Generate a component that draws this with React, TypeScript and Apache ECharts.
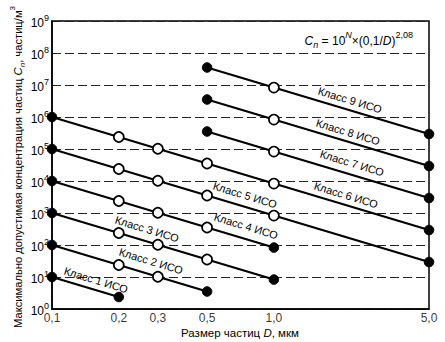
import React, { useEffect, useRef } from 'react';
import * as echarts from 'echarts';

// Particle sizes D, µm and their tick labels
const sizeTicks = [0.1, 0.2, 0.3, 0.5, 1.0, 5.0];
const sizeTickLabels = ['0,1', '0,2', '0,3', '0,5', '1,0', '5,0'];

// ISO classes: sizes and max concentrations (particles/m3)
const class1D = [0.1, 0.2];
const class1C = [10, 2.37];
const class2D = [0.1, 0.2, 0.3, 0.5];
const class2C = [100, 23.7, 10.2, 3.52];
const class3D = [0.1, 0.2, 0.3, 0.5, 1.0];
const class3C = [1000, 237, 102, 35.2, 8.32];
const class4D = [0.1, 0.2, 0.3, 0.5, 1.0];
const class4C = [10000, 2370, 1020, 352, 83.2];
const class5D = [0.1, 0.2, 0.3, 0.5, 1.0, 5.0];
const class5C = [100000, 23700, 10200, 3520, 832, 29.3];
const class6D = [0.1, 0.2, 0.3, 0.5, 1.0, 5.0];
const class6C = [1000000, 237000, 102000, 35200, 8320, 293];
const class7D = [0.5, 1.0, 5.0];
const class7C = [352000, 83200, 2930];
const class8D = [0.5, 1.0, 5.0];
const class8C = [3520000, 832000, 29300];
const class9D = [0.5, 1.0, 5.0];
const class9C = [35200000, 8320000, 293000];

const classNames = ['Класс 1 ИСО', 'Класс 2 ИСО', 'Класс 3 ИСО', 'Класс 4 ИСО', 'Класс 5 ИСО',
  'Класс 6 ИСО', 'Класс 7 ИСО', 'Класс 8 ИСО', 'Класс 9 ИСО'];

// label placement (layout only)
const classLabelPos: [number, number][] = [
  [96, 280], [151, 261], [147, 229], [246, 226], [245, 195],
  [346, 195], [352, 163], [348, 132], [350, 100],
];

const FONT = "'Liberation Sans', Arial, Helvetica, sans-serif";

export default function App() {
  const ref = useRef<HTMLDivElement>(null);
  useEffect(() => {
    const chart = echarts.init(ref.current!, null, { renderer: 'svg' });
    const classes = [
      [class1D, class1C], [class2D, class2C], [class3D, class3C], [class4D, class4C],
      [class5D, class5C], [class6D, class6C], [class7D, class7C], [class8D, class8C], [class9D, class9C],
    ];
    const filled = { color: '#000', borderColor: '#000', borderWidth: 1 };
    const open = { color: '#fff', borderColor: '#000', borderWidth: 1.7 };
    const lineSeries = classes.map(([ds, cs], k) => ({
      type: 'line',
      name: classNames[k],
      data: ds.map((d, i) => {
        const end = i === 0 || i === ds.length - 1;
        return { value: [d, cs[i]], itemStyle: end ? filled : open, symbolSize: end ? 9.5 : 10 };
      }),
      symbol: 'circle',
      showAllSymbol: true,
      color: '#000',
      lineStyle: { color: '#000', width: 2.2 },
      silent: true,
      clip: false,
      z: 3,
    }));

    const tickSeries = {
      type: 'scatter',
      data: sizeTicks.map((d) => [d, 1]),
      symbolSize: 0,
      itemStyle: { color: 'transparent' },
      label: {
        show: true,
        position: 'bottom',
        distance: 3,
        formatter: (p: any) => sizeTickLabels[p.dataIndex],
        fontSize: 12,
        color: '#000',
        fontFamily: FONT,
      },
      silent: true,
      clip: false,
      z: 4,
    };

    const mk = (fs: number) => {
      const base = { fontSize: fs, fontFamily: FONT, color: '#000' };
      const s = Math.round(fs * 0.75);
      return {
        a: { ...base, verticalAlign: 'bottom', padding: [0, 0, 3, 0] },
        i: { ...base, fontStyle: 'italic', verticalAlign: 'bottom', padding: [0, 0, 3, 0] },
        sub: { fontSize: s, fontFamily: FONT, color: '#000', fontStyle: 'italic', verticalAlign: 'bottom', padding: [0, 0, 0, 0] },
        sup: { fontSize: s, fontFamily: FONT, color: '#000', verticalAlign: 'bottom', padding: [0, 0, 10, 0] },
        supi: { fontSize: s, fontFamily: FONT, color: '#000', fontStyle: 'italic', verticalAlign: 'bottom', padding: [0, 0, 10, 0] },
      };
    };

    const graphics: any[] = [
      {
        type: 'text', x: 413, y: 40,
        style: {
          text: '{i|C}{sub|n}{a| = 10}{supi|N}{a|×(0,1/}{i|D}{a|)}{sup|2,08}',
          rich: mk(12), align: 'right', verticalAlign: 'middle',
        },
      },
      {
        type: 'text', x: 240, y: 333,
        style: {
          text: '{a|Размер частиц }{i|D}{a|, мкм}',
          rich: {
            a: { fontSize: 11.5, fontFamily: FONT, color: '#000' },
            i: { fontSize: 11.5, fontFamily: FONT, color: '#000', fontStyle: 'italic' },
          },
          align: 'center', verticalAlign: 'middle',
        },
      },
      {
        type: 'text', x: 17, y: 167, rotation: Math.PI / 2,
        style: {
          text: '{a|Максимально допустимая концентрация частиц }{i|C}{sub|n}{a|, частиц/м}{sup|3}',
          rich: mk(11.2), align: 'center', verticalAlign: 'middle',
        },
      },
      ...classNames.map((n, k) => ({
        type: 'text', x: classLabelPos[k][0], y: classLabelPos[k][1], rotation: -0.294,
        style: { text: n, fontSize: 11, fontFamily: FONT, fill: '#000', align: 'center', verticalAlign: 'middle' },
        z: 10,
      })),
    ];

    chart.setOption({
      animation: false,
      backgroundColor: '#fff',
      grid: { left: 52, right: 16, top: 21, bottom: 33, show: true, borderColor: '#000', borderWidth: 1.5, backgroundColor: 'transparent' },
      xAxis: {
        type: 'log', logBase: 10, min: 0.1, max: 5,
        axisLabel: { show: false },
        axisTick: { show: false },
        splitLine: { show: false },
        axisLine: { show: true, lineStyle: { color: '#000', width: 1.5 } },
      },
      yAxis: {
        type: 'log', logBase: 10, min: 1, max: 1e9,
        axisTick: { show: false },
        axisLine: { show: true, lineStyle: { color: '#000', width: 1.5 } },
        splitLine: { show: true, lineStyle: { color: '#222', width: 1, type: [9, 4] } },
        axisLabel: {
          margin: 3,
          formatter: (v: number) => `{b|10}{s|${Math.round(Math.log10(v))}}`,
          rich: {
            b: { fontSize: 12, fontFamily: FONT, color: '#000', verticalAlign: 'bottom', padding: [0, 0, 0, 0] },
            s: { fontSize: 9, fontFamily: FONT, color: '#000', verticalAlign: 'bottom', padding: [0, 0, 6, 0] },
          },
        },
      },
      series: [...lineSeries, tickSeries],
      graphic: graphics,
    });
    return () => chart.dispose();
  }, []);
  return <div ref={ref} style={{ width: 445, height: 342, position: 'absolute', left: 0, top: 0 }} />;
}
